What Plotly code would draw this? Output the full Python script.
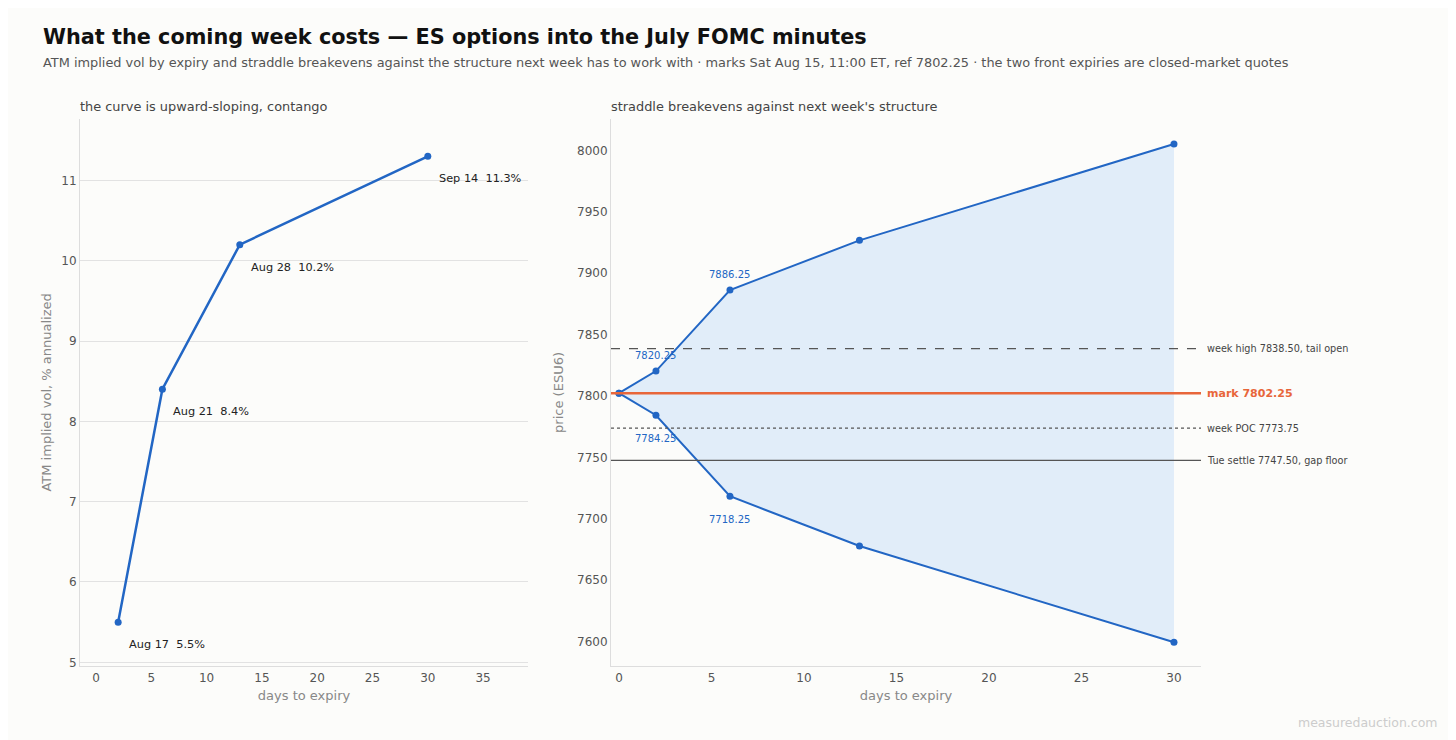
import plotly.graph_objects as go

# term structure (left)
expiry_labels = ["Aug 17", "Aug 21", "Aug 28", "Sep 14"]
days_left = [2, 6, 13, 30]
atm_vol = [5.5, 8.4, 10.2, 11.3]

# straddle breakevens (right)
days_right = [0, 2, 6, 13, 30]
upper_be = [7802.25, 7820.25, 7886.25, 7926.75, 8005.25]
lower_be = [7802.25, 7784.25, 7718.25, 7677.75, 7599.25]
labelled_idx = [1, 2]

# reference levels
level_names = ["week high 7838.50, tail open", "mark 7802.25", "week POC 7773.75",
               "Tue settle 7747.50, gap floor"]
level_values = [7838.50, 7802.25, 7773.75, 7747.50]

BLUE = "#2266c4"
ORANGE = "#e8663a"
BG = "#fcfcfa"
FONT = "DejaVu Sans"
W, H = 1456, 740
OFF = 8  # page body margin


def px(x):
    return (x - OFF) / W


def py(y):
    return 1 - (y - OFF) / H


fig = go.Figure()

fig.add_trace(go.Scatter(
    x=days_left, y=atm_vol, mode="lines+markers",
    line=dict(color=BLUE, width=2.5), marker=dict(size=7, color=BLUE),
    xaxis="x", yaxis="y", showlegend=False,
))

fig.add_trace(go.Scatter(
    x=days_right, y=lower_be, mode="lines+markers",
    line=dict(color=BLUE, width=2), marker=dict(size=7, color=BLUE),
    xaxis="x2", yaxis="y2", showlegend=False,
))
fig.add_trace(go.Scatter(
    x=days_right, y=upper_be, mode="lines+markers", fill="tonexty",
    fillcolor="rgba(207,226,249,0.6)",
    line=dict(color=BLUE, width=2), marker=dict(size=7, color=BLUE),
    xaxis="x2", yaxis="y2", showlegend=False,
))

annotations = []
for lab, d, v in zip(expiry_labels, days_left, atm_vol):
    annotations.append(dict(
        x=d, y=v, xref="x", yref="y", text=f"{lab}  {v:.1f}%", showarrow=False,
        xanchor="left", yanchor="top", xshift=9, yshift=-14,
        font=dict(size=11.3, color="#222", family=FONT),
    ))

for i in labelled_idx:
    annotations.append(dict(
        x=days_right[i], y=upper_be[i], xref="x2", yref="y2", text=f"{upper_be[i]:.2f}",
        showarrow=False, yanchor="bottom", yshift=8,
        font=dict(size=10, color=BLUE, family=FONT),
    ))
    annotations.append(dict(
        x=days_right[i], y=lower_be[i], xref="x2", yref="y2", text=f"{lower_be[i]:.2f}",
        showarrow=False, yanchor="top", yshift=-16,
        font=dict(size=10, color=BLUE, family=FONT),
    ))

styles = [
    dict(color="#555", width=1.3, dash="dash"),
    dict(color=ORANGE, width=2.5, dash="solid"),
    dict(color="#555", width=1.3, dash="dot"),
    dict(color="#555", width=1.3, dash="solid"),
]
shapes = []
for name, val, st in zip(level_names, level_values, styles):
    shapes.append(dict(
        type="line", xref="x2 domain", yref="y2", x0=0, x1=1, y0=val, y1=val, line=st,
    ))
    is_mark = name.startswith("mark")
    annotations.append(dict(
        x=1.01, y=val, xref="x2 domain", yref="y2", xanchor="left", yanchor="middle",
        xshift=-2, text=f"<b>{name}</b>" if is_mark else name, showarrow=False,
        font=dict(size=11 if is_mark else 9.7, color=ORANGE if is_mark else "#444", family=FONT),
    ))

# titles (text annotations carry ~2px padding)
annotations += [
    dict(x=px(41), y=py(37), xref="paper", yref="paper", xanchor="left",
         yanchor="middle", showarrow=False,
         text="<b>What the coming week costs — ES options into the July FOMC minutes</b>",
         font=dict(size=20.8, color="#111", family=FONT)),
    dict(x=px(41), y=py(63), xref="paper", yref="paper", xanchor="left",
         yanchor="middle", showarrow=False,
         text="ATM implied vol by expiry and straddle breakevens against the structure next week "
              "has to work with · marks Sat Aug 15, 11:00 ET, ref 7802.25 · the two front "
              "expiries are closed-market quotes",
         font=dict(size=12.9, color="#555", family=FONT)),
    dict(x=px(78), y=py(107), xref="paper", yref="paper", xanchor="left",
         yanchor="middle", showarrow=False, text="the curve is upward-sloping, contango",
         font=dict(size=12.9, color="#444", family=FONT)),
    dict(x=px(609), y=py(107), xref="paper", yref="paper", xanchor="left",
         yanchor="middle", showarrow=False, text="straddle breakevens against next week's structure",
         font=dict(size=12.9, color="#444", family=FONT)),
    dict(x=px(1440), y=py(725), xref="paper", yref="paper", xanchor="right",
         yanchor="middle", showarrow=False, text="measuredauction.com",
         font=dict(size=12.5, color="#ccc", family=FONT)),
]

axis_common = dict(
    showline=True, linecolor="#ddd", linewidth=1, ticks="", zeroline=False,
    tickfont=dict(size=12, color="#555", family=FONT),
    title_font=dict(size=13, color="#888", family=FONT),
)

fig.update_layout(
    width=W, height=H,
    margin=dict(l=0, r=0, t=0, b=0),
    paper_bgcolor=BG, plot_bgcolor=BG,
    font=dict(family=FONT),
    shapes=shapes, annotations=annotations,
    xaxis=dict(domain=[px(80), px(528)], range=[-1.45, 39.06], dtick=5,
               showgrid=False, title=dict(text="days to expiry", standoff=7),
               anchor="y", **axis_common),
    yaxis=dict(domain=[py(669), py(119)], range=[4.95, 11.77], dtick=1,
               showgrid=True, gridcolor="#e2e2e2",
               title=dict(text="ATM implied vol, % annualized", standoff=6),
               anchor="x", **axis_common),
    xaxis2=dict(domain=[px(611), px(1201)], range=[-0.43, 31.46], dtick=5,
                showgrid=False, title=dict(text="days to expiry", standoff=7),
                anchor="y2", **axis_common),
    yaxis2=dict(domain=[py(669), py(119)], range=[7579.7, 8026], dtick=50,
                showgrid=False, title=dict(text="price (ESU6)", standoff=10),
                anchor="x2", **axis_common),
)

fig.write_html("out.html")
